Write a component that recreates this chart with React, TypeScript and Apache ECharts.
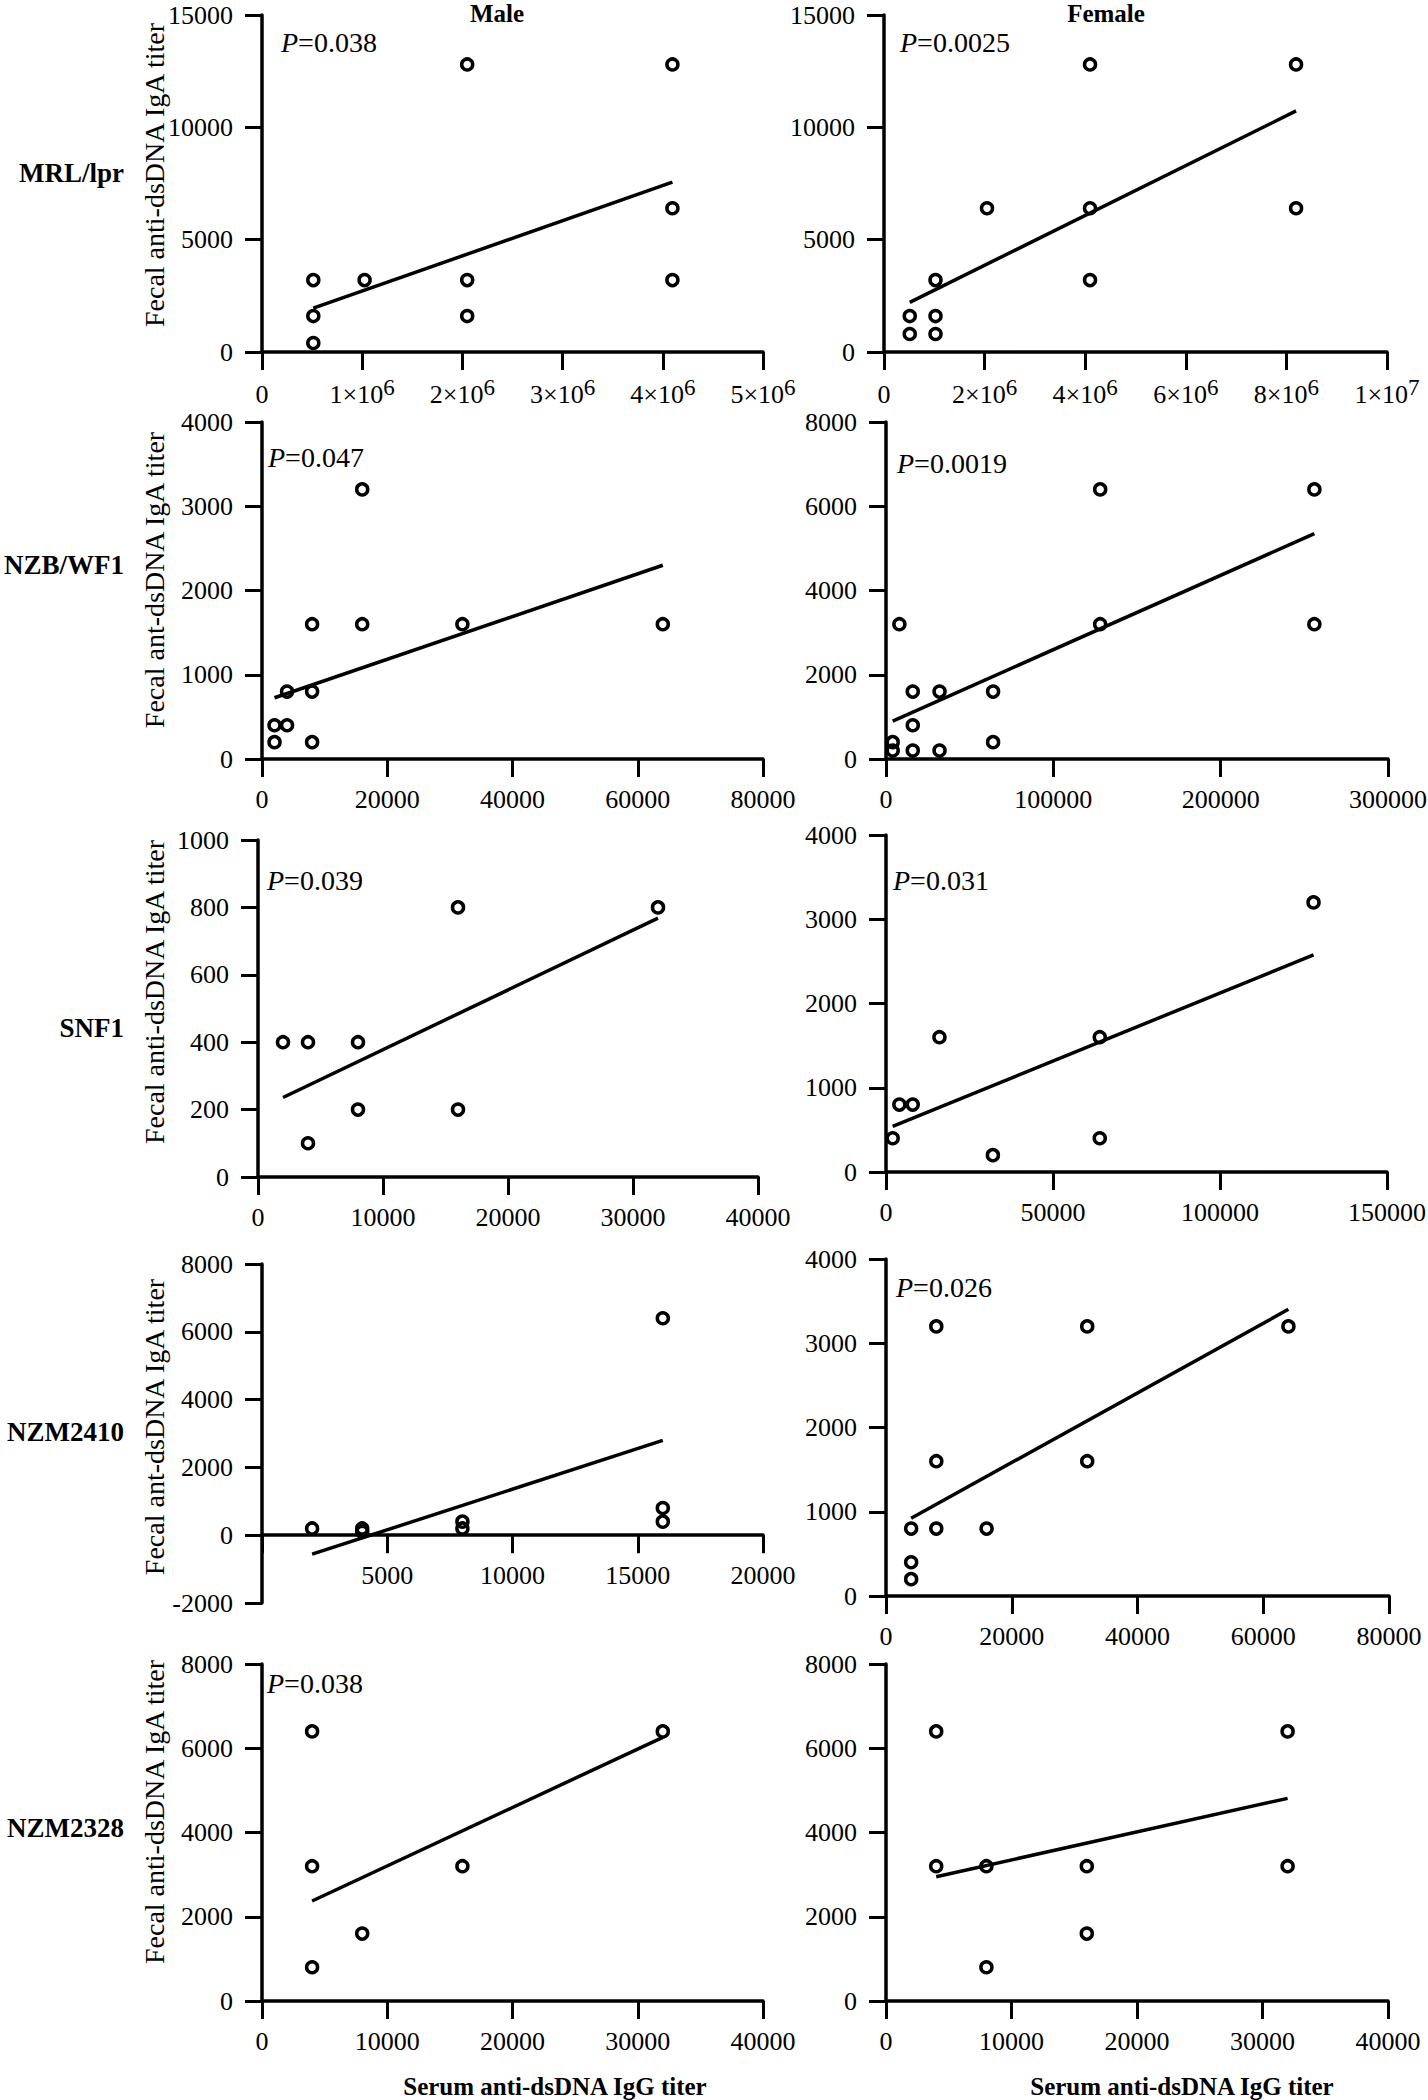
import React, { useEffect, useRef } from "react";
import * as echarts from "echarts";

// ---------------- DATA ----------------
// MRL/lpr
const mrlMaleX = [512000, 512000, 512000, 1024000, 2048000, 2048000, 2048000, 4096000, 4096000, 4096000];
const mrlMaleY = [3200, 1600, 400, 3200, 12800, 3200, 1600, 12800, 6400, 3200];
const mrlMaleFitX = [512000, 4096000];
const mrlMaleFitY = [1950, 7560];
const mrlFemaleX = [512000, 512000, 1024000, 1024000, 1024000, 2048000, 4096000, 4096000, 4096000, 8192000, 8192000];
const mrlFemaleY = [1600, 800, 3200, 1600, 800, 6400, 12800, 6400, 3200, 12800, 6400];
const mrlFemaleFitX = [512000, 8192000];
const mrlFemaleFitY = [2210, 10730];

// NZB/WF1
const nzbMaleX = [2000, 2000, 4000, 4000, 8000, 8000, 8000, 16000, 16000, 32000, 64000];
const nzbMaleY = [200, 400, 400, 800, 200, 800, 1600, 3200, 1600, 1600, 1600];
const nzbMaleFitX = [2000, 64000];
const nzbMaleFitY = [727, 2300];
const nzbFemaleX = [4000, 4000, 8000, 16000, 16000, 16000, 32000, 32000, 64000, 64000, 128000, 128000, 256000, 256000];
const nzbFemaleY = [400, 200, 3200, 1600, 800, 200, 1600, 200, 1600, 400, 6400, 3200, 6400, 3200];
const nzbFemaleFitX = [4000, 256000];
const nzbFemaleFitY = [900, 5350];

// SNF1
const snfMaleX = [2000, 4000, 4000, 8000, 8000, 16000, 16000, 32000];
const snfMaleY = [400, 400, 100, 400, 200, 800, 200, 800];
const snfMaleFitX = [2000, 32000];
const snfMaleFitY = [236, 768];
const snfFemaleX = [2000, 4000, 8000, 16000, 32000, 64000, 64000, 128000];
const snfFemaleY = [400, 800, 800, 1600, 200, 1600, 400, 3200];
const snfFemaleFitX = [2000, 128000];
const snfFemaleFitY = [541, 2577];

// NZM2410
const nzm2410MaleX = [2000, 4000, 4000, 8000, 8000, 16000, 16000, 16000];
const nzm2410MaleY = [200, 200, 100, 400, 200, 800, 400, 6400];
const nzm2410MaleFitX = [2000, 16000];
const nzm2410MaleFitY = [-560, 2795];
const nzm2410FemaleX = [4000, 4000, 4000, 8000, 8000, 8000, 16000, 32000, 32000, 64000];
const nzm2410FemaleY = [200, 400, 800, 800, 1600, 3200, 800, 1600, 3200, 3200];
const nzm2410FemaleFitX = [4000, 64000];
const nzm2410FemaleFitY = [922, 3403];

// NZM2328
const nzm2328MaleX = [4000, 4000, 4000, 8000, 16000, 32000];
const nzm2328MaleY = [6400, 3200, 800, 1600, 3200, 6400];
const nzm2328MaleFitX = [4000, 32000];
const nzm2328MaleFitY = [2374, 6259];
const nzm2328FemaleX = [4000, 4000, 8000, 8000, 16000, 16000, 32000, 32000];
const nzm2328FemaleY = [6400, 3200, 3200, 800, 3200, 1600, 6400, 3200];
const nzm2328FemaleFitX = [4000, 32000];
const nzm2328FemaleFitY = [2951, 4811];

// Axis ranges [min, max, interval] and tick labels
const mrlMaleXRange = [0, 5000000, 1000000];
const mrlMaleXTicks = ["0", "1×10^6", "2×10^6", "3×10^6", "4×10^6", "5×10^6"];
const mrlFemaleXRange = [0, 10000000, 2000000];
const mrlFemaleXTicks = ["0", "2×10^6", "4×10^6", "6×10^6", "8×10^6", "1×10^7"];
const mrlYRange = [0, 15000, 5000];
const mrlYTicks = ["0", "5000", "10000", "15000"];

const nzbMaleXRange = [0, 80000, 20000];
const nzbMaleXTicks = ["0", "20000", "40000", "60000", "80000"];
const nzbMaleYRange = [0, 4000, 1000];
const nzbMaleYTicks = ["0", "1000", "2000", "3000", "4000"];
const nzbFemaleXRange = [0, 300000, 100000];
const nzbFemaleXTicks = ["0", "100000", "200000", "300000"];
const nzbFemaleYRange = [0, 8000, 2000];
const nzbFemaleYTicks = ["0", "2000", "4000", "6000", "8000"];

const snfMaleXRange = [0, 40000, 10000];
const snfMaleXTicks = ["0", "10000", "20000", "30000", "40000"];
const snfMaleYRange = [0, 1000, 200];
const snfMaleYTicks = ["0", "200", "400", "600", "800", "1000"];
const snfFemaleXRange = [0, 150000, 50000];
const snfFemaleXTicks = ["0", "50000", "100000", "150000"];
const snfFemaleYRange = [0, 4000, 1000];
const snfFemaleYTicks = ["0", "1000", "2000", "3000", "4000"];

const nzm2410MaleXRange = [0, 20000, 5000];
const nzm2410MaleXTicks = ["", "5000", "10000", "15000", "20000"];
const nzm2410MaleYRange = [-2000, 8000, 2000];
const nzm2410MaleYTicks = ["-2000", "0", "2000", "4000", "6000", "8000"];
const nzm2410FemaleXRange = [0, 80000, 20000];
const nzm2410FemaleXTicks = ["0", "20000", "40000", "60000", "80000"];
const nzm2410FemaleYRange = [0, 4000, 1000];
const nzm2410FemaleYTicks = ["0", "1000", "2000", "3000", "4000"];

const nzm2328XRange = [0, 40000, 10000];
const nzm2328XTicks = ["0", "10000", "20000", "30000", "40000"];
const nzm2328YRange = [0, 8000, 2000];
const nzm2328YTicks = ["0", "2000", "4000", "6000", "8000"];

// Texts
const strainLabels = ["MRL/lpr", "NZB/WF1", "SNF1", "NZM2410", "NZM2328"];
const sexLabels = ["Male", "Female"];
const yTitles = [
  "Fecal anti-dsDNA IgA titer",
  "Fecal ant-dsDNA IgA titer",
  "Fecal anti-dsDNA IgA titer",
  "Fecal ant-dsDNA IgA titer",
  "Fecal anti-dsDNA IgA titer",
];
const xTitle = "Serum anti-dsDNA IgG titer";
const pValues = ["0.038", "0.0025", "0.047", "0.0019", "0.039", "0.031", null, "0.026", "0.038", null];

// ---------------- LAYOUT (px) ----------------
const boxes = [
  { left: 262, right: 763, top: 15, bottom: 352 },
  { left: 884, right: 1387, top: 15, bottom: 352 },
  { left: 262, right: 763, top: 422, bottom: 759 },
  { left: 886, right: 1388, top: 422, bottom: 759 },
  { left: 258, right: 758, top: 840, bottom: 1177 },
  { left: 886, right: 1387, top: 835, bottom: 1172 },
  { left: 262, right: 763, top: 1264, bottom: 1603 },
  { left: 886, right: 1389, top: 1259, bottom: 1596 },
  { left: 262, right: 763, top: 1664, bottom: 2001 },
  { left: 886, right: 1388, top: 1664, bottom: 2001 },
];
const pPos = [
  [281, 42], [900, 42], [268, 457], [897, 463], [267, 880],
  [893, 880], null, [896, 1287], [267, 1683], null,
];
const strainLabelY = [173, 565, 1028, 1432, 1828];
const yTitleY = [175, 580, 992, 1427, 1812];

const FONT = "'Liberation Serif', 'Times New Roman', Times, serif";

const panels = [
  { x: mrlMaleX, y: mrlMaleY, fx: mrlMaleFitX, fy: mrlMaleFitY, xr: mrlMaleXRange, xt: mrlMaleXTicks, yr: mrlYRange, yt: mrlYTicks, sci: true },
  { x: mrlFemaleX, y: mrlFemaleY, fx: mrlFemaleFitX, fy: mrlFemaleFitY, xr: mrlFemaleXRange, xt: mrlFemaleXTicks, yr: mrlYRange, yt: mrlYTicks, sci: true },
  { x: nzbMaleX, y: nzbMaleY, fx: nzbMaleFitX, fy: nzbMaleFitY, xr: nzbMaleXRange, xt: nzbMaleXTicks, yr: nzbMaleYRange, yt: nzbMaleYTicks },
  { x: nzbFemaleX, y: nzbFemaleY, fx: nzbFemaleFitX, fy: nzbFemaleFitY, xr: nzbFemaleXRange, xt: nzbFemaleXTicks, yr: nzbFemaleYRange, yt: nzbFemaleYTicks },
  { x: snfMaleX, y: snfMaleY, fx: snfMaleFitX, fy: snfMaleFitY, xr: snfMaleXRange, xt: snfMaleXTicks, yr: snfMaleYRange, yt: snfMaleYTicks },
  { x: snfFemaleX, y: snfFemaleY, fx: snfFemaleFitX, fy: snfFemaleFitY, xr: snfFemaleXRange, xt: snfFemaleXTicks, yr: snfFemaleYRange, yt: snfFemaleYTicks },
  { x: nzm2410MaleX, y: nzm2410MaleY, fx: nzm2410MaleFitX, fy: nzm2410MaleFitY, xr: nzm2410MaleXRange, xt: nzm2410MaleXTicks, yr: nzm2410MaleYRange, yt: nzm2410MaleYTicks },
  { x: nzm2410FemaleX, y: nzm2410FemaleY, fx: nzm2410FemaleFitX, fy: nzm2410FemaleFitY, xr: nzm2410FemaleXRange, xt: nzm2410FemaleXTicks, yr: nzm2410FemaleYRange, yt: nzm2410FemaleYTicks },
  { x: nzm2328MaleX, y: nzm2328MaleY, fx: nzm2328MaleFitX, fy: nzm2328MaleFitY, xr: nzm2328XRange, xt: nzm2328XTicks, yr: nzm2328YRange, yt: nzm2328YTicks },
  { x: nzm2328FemaleX, y: nzm2328FemaleY, fx: nzm2328FemaleFitX, fy: nzm2328FemaleFitY, xr: nzm2328XRange, xt: nzm2328XTicks, yr: nzm2328YRange, yt: nzm2328YTicks },
];

const tickLabel = (labels: string[], range: number[], v: number) => {
  const i = Math.round((v - range[0]) / range[2]);
  return labels[i] ?? "";
};

const toRich = (t: string) => {
  if (t === "") return "";
  if (t.includes("^")) {
    const [b, s] = t.split("^");
    return `{b|${b}}{s|${s}}`;
  }
  return `{b|${t}}`;
};

const AXIS_W = 3.5;
const TICK_W = 3;

function buildOption() {
  const grid: any[] = [];
  const xAxis: any[] = [];
  const yAxis: any[] = [];
  const series: any[] = [];
  const graphic: any[] = [];

  panels.forEach((p, i) => {
    const b = boxes[i];
    const h = b.bottom - b.top;
    grid.push({
      left: b.left,
      top: b.top,
      width: b.right - b.left,
      height: h,
      containLabel: false,
      outerBoundsMode: "none",
    });
    // x axis crosses the y axis at value 0
    let offset = 0;
    if (p.yr[0] < 0) {
      const zeroY = b.top + ((p.yr[1] - 0) / (p.yr[1] - p.yr[0])) * h;
      offset = zeroY - b.bottom;
    }
    xAxis.push({
      type: "value",
      gridIndex: i,
      position: "bottom",
      offset,
      min: p.xr[0],
      max: p.xr[1],
      interval: p.xr[2],
      axisLine: { show: true, onZero: false, lineStyle: { color: "#000", width: AXIS_W } },
      axisTick: { show: true, inside: false, length: 18, lineStyle: { color: "#000", width: TICK_W } },
      splitLine: { show: false },
      axisLabel: {
        show: true,
        showMinLabel: true,
        showMaxLabel: true,
        margin: p.sci ? 23 : 21,
        color: "#000",
        fontFamily: FONT,
        fontSize: 26,
        formatter: (v: number) => toRich(tickLabel(p.xt, p.xr, v)),
        rich: {
          b: { fontFamily: FONT, fontSize: 26, color: "#000", padding: [6, 0, 0, 0] },
          s: { fontFamily: FONT, fontSize: 23, color: "#000", padding: [1, 0, 8, 0] },
        },
      },
    });
    yAxis.push({
      type: "value",
      gridIndex: i,
      position: "left",
      min: p.yr[0],
      max: p.yr[1],
      interval: p.yr[2],
      axisLine: { show: true, onZero: false, lineStyle: { color: "#000", width: AXIS_W } },
      axisTick: { show: true, inside: false, length: 17, lineStyle: { color: "#000", width: TICK_W } },
      splitLine: { show: false },
      axisLabel: {
        show: true,
        showMinLabel: true,
        showMaxLabel: true,
        margin: 29,
        color: "#000",
        fontFamily: FONT,
        fontSize: 26,
        formatter: (v: number) => tickLabel(p.yt, p.yr, v),
      },
    });
    series.push({
      type: "scatter",
      xAxisIndex: i,
      yAxisIndex: i,
      data: p.x.map((xv, k) => [xv, p.y[k]]),
      symbol: "circle",
      symbolSize: 11,
      itemStyle: { color: "rgba(0,0,0,0)", borderColor: "#000", borderWidth: 3.5, opacity: 1 },
      emphasis: { disabled: true },
      silent: true,
      z: 3,
    });
    series.push({
      type: "line",
      xAxisIndex: i,
      yAxisIndex: i,
      data: p.fx.map((xv, k) => [xv, p.fy[k]]),
      symbol: "none",
      lineStyle: { color: "#000", width: 3.5 },
      silent: true,
      z: 2,
    });

    const pv = pValues[i];
    const pp = pPos[i];
    if (pv && pp) {
      graphic.push({
        type: "text",
        x: pp[0],
        y: pp[1],
        style: {
          text: `{i|P}{n|=${pv}}`,
          align: "left",
          verticalAlign: "middle",
          textAlign: "left",
          textVerticalAlign: "middle",
          rich: {
            i: { fontFamily: FONT, fontSize: 28, fontStyle: "italic", fill: "#000", color: "#000" },
            n: { fontFamily: FONT, fontSize: 28, fill: "#000", color: "#000" },
          },
          fontFamily: FONT,
          fontSize: 28,
          fill: "#000",
        },
      });
    }
  });

  // Column titles
  const colCenters = [497, 1106];
  sexLabels.forEach((t, i) => {
    graphic.push({
      type: "text",
      x: colCenters[i],
      y: 13,
      style: {
        text: t,
        fontFamily: FONT,
        fontSize: 25,
        fontWeight: "bold",
        fill: "#000",
        align: "center",
        verticalAlign: "middle",
        textAlign: "center",
        textVerticalAlign: "middle",
      },
    });
  });

  // Row labels and Y titles
  strainLabels.forEach((t, i) => {
    graphic.push({
      type: "text",
      x: 124,
      y: strainLabelY[i],
      style: {
        text: t,
        fontFamily: FONT,
        fontSize: 27,
        fontWeight: "bold",
        fill: "#000",
        align: "right",
        verticalAlign: "middle",
        textAlign: "right",
        textVerticalAlign: "middle",
      },
    });
    graphic.push({
      type: "text",
      x: 154,
      y: yTitleY[i],
      rotation: Math.PI / 2,
      style: {
        text: yTitles[i],
        fontFamily: FONT,
        fontSize: 28,
        fill: "#000",
        align: "center",
        verticalAlign: "middle",
        textAlign: "center",
        textVerticalAlign: "middle",
      },
    });
  });

  // X titles
  const xTitleCenters = [555, 1182];
  xTitleCenters.forEach((cx) => {
    graphic.push({
      type: "text",
      x: cx,
      y: 2086,
      style: {
        text: xTitle,
        fontFamily: FONT,
        fontSize: 25,
        fontWeight: "bold",
        fill: "#000",
        align: "center",
        verticalAlign: "middle",
        textAlign: "center",
        textVerticalAlign: "middle",
      },
    });
  });

  return {
    animation: false,
    backgroundColor: "#fff",
    tooltip: { show: false },
    grid,
    xAxis,
    yAxis,
    series,
    graphic: { elements: graphic },
  };
}

export default function App() {
  const ref = useRef<HTMLDivElement>(null);
  useEffect(() => {
    document.body.style.margin = "0";
    if (!ref.current) return;
    const chart = echarts.init(ref.current, undefined, { renderer: "svg", width: 1428, height: 2100 });
    chart.setOption(buildOption() as any);
    return () => {
      chart.dispose();
    };
  }, []);
  return <div ref={ref} style={{ width: 1428, height: 2100, background: "#fff" }} />;
}
